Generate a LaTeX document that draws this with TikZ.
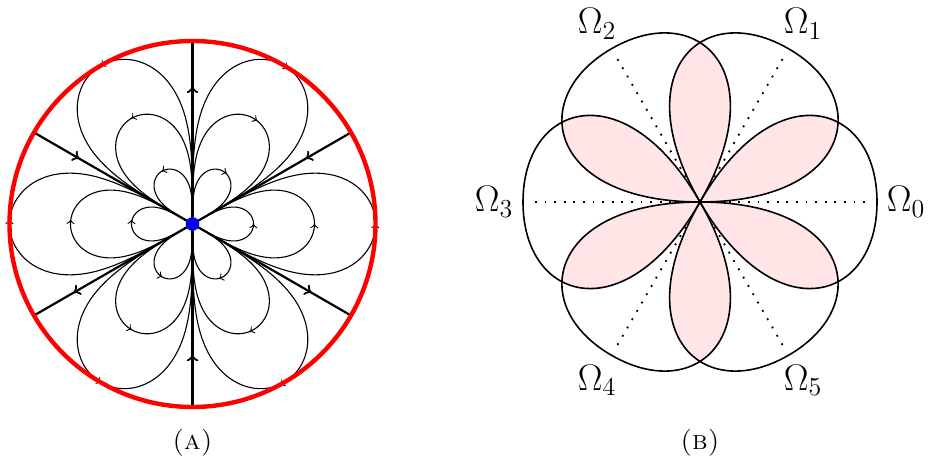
\documentclass[tikz,border=0pt]{standalone}
\usepackage{fix-cm}
\usepackage{amsmath,amssymb}
\usepackage{xcolor}
\usepackage{tikz}
\usetikzlibrary{decorations.markings, calc}

% one petal of the flower, centred on the positive x-axis
\newcommand{\lobe}{(0,0) .. controls (60:150) and (177,100) .. (177,0)
    .. controls (177,-100) and (-60:150) .. (0,0)}

\begin{document}
\begin{tikzpicture}[
    x=0.5pt, y=0.5pt,
    rim/.style={red, line width=2.2pt},
    sepline/.style={line width=1.1pt},
    orbit/.style={line width=0.55pt},
    fwd/.style={postaction={decorate}, decoration={markings,
                mark=at position #1 with {\arrow{>}}}},
    bwd/.style={postaction={decorate}, decoration={markings,
                mark=at position #1 with {\arrow{<}}}},
    fixpt/.style={circle, fill=blue, inner sep=0pt, minimum size=6.8pt},
    petal/.style={line width=0.8pt},
    overlap/.style={fill=red!10},
    axisline/.style={line width=0.9pt, dash pattern=on 0.9pt off 3.9pt},
    lab/.style={font=\fontsize{18.5}{22}\selectfont},
    subcap/.style={font=\fontsize{13.5}{16}\selectfont},
]
\useasboundingbox (0,0) rectangle (931,466);

% (a) phase portrait
\coordinate (cA) at (192.5,242);
\foreach \a in {30,90,...,330} {
    \coordinate (rim\a) at ($(cA)+(\a:183)$);
}
\begin{scope}[shift={(cA)}]
% counterclockwise loops
\foreach \k in {0,2,4} {
    \foreach \R in {61,122,183} {
        \draw[orbit, fwd=0.5] plot[domain=-90:90, samples=121, variable=\s]
            ({60*\k+atan2(sin(\s)*sqrt(1+cos(\s)*cos(\s)*(1+cos(\s)*cos(\s))),cos(\s)*cos(\s)*cos(\s))/3}:{\R*cos(\s)});
    }
}
% clockwise loops
\foreach \k in {1,3,5} {
    \foreach \R in {61,122,183} {
        \draw[orbit, bwd=0.5] plot[domain=-90:90, samples=121, variable=\s]
            ({60*\k+atan2(sin(\s)*sqrt(1+cos(\s)*cos(\s)*(1+cos(\s)*cos(\s))),cos(\s)*cos(\s)*cos(\s))/3}:{\R*cos(\s)});
    }
}
\end{scope}

% separatrices
\foreach \a in {90,210,330} {
    \draw[sepline, fwd=0.75] (cA) -- (rim\a);
}
\foreach \a in {30,150,270} {
    \draw[sepline, bwd=0.75] (cA) -- (rim\a);
}
\draw[rim] (cA) circle[radius=183];
\node[fixpt] (dotA) at (cA) {};
\node[subcap] (capA) at (192.5,23) {\textsc{(a)}};

% (b) petals
\coordinate (cB) at (700,264);
\begin{scope}[shift={(cB)}]
% axes of the petals
\foreach \a in {0,60,...,300} {
    \draw[axisline] (0,0) -- (\a:172);
}
% overlaps of neighbouring petals
\foreach \k in {0,...,5} {
    \begin{scope}
        \clip[rotate=60*\k] \lobe;
        \fill[overlap, rotate=60*\k+60] \lobe;
    \end{scope}
}
% petals
\foreach \k in {0,...,5} {
    \draw[petal, rotate=60*\k] \lobe;
}
% labels
\foreach \k in {0,...,5} {
    \node[lab] (om\k) at (60*\k:206) {$\Omega_{\k}$};
}
\end{scope}
\node[subcap] (capB) at (700,23) {\textsc{(b)}};

\end{tikzpicture}
\end{document}
